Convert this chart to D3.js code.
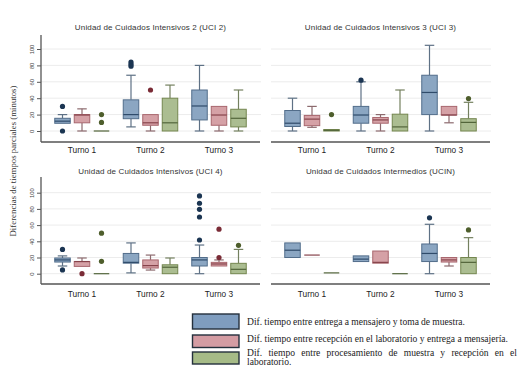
<!DOCTYPE html>
<html><head><meta charset="utf-8">
<script src="https://cdn.jsdelivr.net/npm/d3@7"></script>
<style>body{margin:0;background:#fff}svg{display:block}</style>
</head><body>
<svg id="c" width="522" height="382"></svg>
<script>
// ---- data ----
const panelTitles = ["Unidad de Cuidados Intensivos 2 (UCI 2)", "Unidad de Cuidados Intensivos 3 (UCI 3)",
  "Unidad de Cuidados Intensivos (UCI 4)", "Unidad de Cuidados Intermedios (UCIN)"];
const turnos = ["Turno 1", "Turno 2", "Turno 3"];
const seriesNames = ["Dif. tiempo entre entrega a mensajero y toma de muestra.",
  "Dif. tiempo entre recepción en el laboratorio y entrega a mensajería.",
  "Dif. tiempo entre procesamiento de muestra y recepción en el laboratorio."];
const yTicks = [0, 20, 40, 60, 80, 100];
const yLabel = "Diferencias de tiempos parciales (minutos)";

// box stats per turno per series: [lower whisker, q1, median, q3, upper whisker]
const uci2Boxes = [
  [[9.4, 9.4, 12, 15.5, 20], [0, 10, 19.5, 20, 27], [0, 0, 0, 0, 0]],
  [[5, 15, 20, 38, 68], [0, 7, 10, 20, 20], [0, 0, 10, 40, 56]],
  [[0, 13.5, 30.5, 50, 80], [0, 7, 19.5, 30, 30], [0, 5, 15.5, 26.5, 50]]
];
const uci2Outliers = [[[30, 0], [], [20, 10.5]], [[84, 81.5, 79], [50], []], [[], [], []]];

const uci3Boxes = [
  [[0, 5.5, 9.5, 25, 40], [4.5, 6.5, 14.5, 19, 30], [0, 0, 0.8, 1.8, 1.8]],
  [[0, 9.5, 19.5, 30, 60], [0, 9.5, 13.5, 16.5, 20], [0, 0, 5, 20.5, 50]],
  [[0, 20, 47, 68, 104.5], [10, 19.5, 19.5, 30, 30], [0, 0, 10.5, 15, 35]]
];
const uci3Outliers = [[[], [], [20]], [[62], [], []], [[], [], [39.5]]];

const uci4Boxes = [
  [[9.5, 14.4, 17, 19.4, 22], [9, 9, 15, 15, 19.4], [0, 0, 0, 0, 0]],
  [[1, 13, 14, 25, 38], [4.5, 7, 10, 17, 23], [0, 0, 8, 11, 19.4]],
  [[0, 9.5, 17, 20, 35.4], [9.5, 9.5, 12, 14, 17], [0, 0, 5.4, 12.8, 30]]
];
const uci4Outliers = [[[30, 4.6], [0], [50, 15.3]], [[], [], []], [[96, 87, 79.5, 70, 41.6], [55, 20], [35]]];

const ucinBoxes = [
  [[20, 20, 29, 38, 38], [23, 23, 23, 23, 23], [1, 1, 1, 1, 1]],
  [[15, 15, 18, 22, 22], [13, 13, 14, 28, 28], [0, 0, 0, 0, 0]],
  [[0, 15, 25, 36.7, 61], [9.5, 14.4, 17, 20, 20], [0, 0, 14, 20, 44.5]]
];
const ucinOutliers = [[[], [], []], [[], [], []], [[69], [], [54]]];

// ---- styles ----
const fills = ["#8ba6c2", "#d5a1a6", "#abbd91"];
const strokes = ["#526d8a", "#a8676e", "#74864f"];
const medians = ["#2f4b6a", "#86434b", "#52653a"];
const whiskers = ["#5e7185", "#8c6a6e", "#74805f"];
const dots = ["#1b3552", "#7a2b36", "#4e5e2c"];
const legendFills = ["#7f9dbf", "#d49ca3", "#a6bb87"];

const svg = d3.select("#c");
const sans = "'Liberation Sans', Arial, sans-serif";
const serif = "'Liberation Serif', 'DejaVu Serif', serif";

const layouts = [
  {x0: 41, x1: 260, yz: 131, yh: 49, top: 35, bot: 142, showY: true, titleY: 30, turnoY: 153},
  {x0: 271, x1: 490, yz: 131, yh: 49, top: 35, bot: 142, showY: false, titleY: 30, turnoY: 153},
  {x0: 41, x1: 260, yz: 273.7, yh: 192.7, top: 177, bot: 284, showY: true, titleY: 174, turnoY: 297},
  {x0: 271, x1: 490, yz: 273.7, yh: 192.7, top: 177, bot: 284, showY: false, titleY: 174, turnoY: 297}
];
const panelBoxes = [uci2Boxes, uci3Boxes, uci4Boxes, ucinBoxes];
const panelOutliers = [uci2Outliers, uci3Outliers, uci4Outliers, ucinOutliers];

const boxW = 15.5, capW = 9.5;

layouts.forEach((L, pi) => {
  const g = svg.append("g");
  const y = d3.scaleLinear().domain([0, 100]).range([L.yz, L.yh]);
  const x = d3.scalePoint().domain(turnos).range([L.x0 + 41, L.x1 - 41]);
  const xs = d3.scalePoint().domain([0, 1, 2]).range([-19.5, 19.5]);

  g.append("g").selectAll("line").data(yTicks).join("line")
    .attr("x1", L.x0).attr("x2", L.x1 + 1)
    .attr("y1", d => y(d)).attr("y2", d => y(d))
    .attr("stroke", "#ececec").attr("stroke-width", 1);

  if (L.showY) {
    const ax = g.append("g").attr("transform", `translate(${L.x0},0)`)
      .call(d3.axisLeft(y).tickValues(yTicks).tickSize(4).tickSizeOuter(0));
    ax.select(".domain").remove();
    ax.selectAll(".tick line").attr("stroke", "#555");
    ax.selectAll(".tick text")
      .attr("x", null).attr("dy", null)
      .attr("transform", "translate(-9,0) rotate(-90)")
      .attr("text-anchor", "middle").attr("dominant-baseline", "central")
      .attr("font-size", 5.8).attr("font-family", sans).attr("fill", "#444");
    g.append("line").attr("x1", L.x0).attr("x2", L.x0)
      .attr("y1", L.top).attr("y2", L.bot).attr("stroke", "#555").attr("stroke-width", 1.3);
  }
  g.append("line").attr("x1", L.x0).attr("x2", L.x1)
    .attr("y1", L.bot).attr("y2", L.bot).attr("stroke", "#555").attr("stroke-width", 1.3);

  g.append("g").selectAll("text").data(turnos).join("text")
    .attr("x", d => x(d)).attr("y", L.turnoY).attr("text-anchor", "middle")
    .attr("font-size", 8.3).attr("font-family", sans).attr("fill", "#222").text(d => d);

  g.append("text").attr("x", (L.x0 + L.x1) / 2).attr("y", L.titleY)
    .attr("text-anchor", "middle").attr("font-size", 8).attr("font-family", sans)
    .attr("fill", "#333").attr("letter-spacing", 0.15).text(panelTitles[pi]);

  const boxes = panelBoxes[pi];
  const outs = panelOutliers[pi];
  turnos.forEach((t, ti) => {
    [0, 1, 2].forEach(si => {
      const [lo, q1, med, q3, hi] = boxes[ti][si];
      const cx = x(t) + xs(si);
      const bg = g.append("g");
      if (hi > q3) {
        bg.append("line").attr("x1", cx).attr("x2", cx).attr("y1", y(q3)).attr("y2", y(hi))
          .attr("stroke", whiskers[si]).attr("stroke-width", 1.2);
        bg.append("line").attr("x1", cx - capW / 2).attr("x2", cx + capW / 2).attr("y1", y(hi)).attr("y2", y(hi))
          .attr("stroke", whiskers[si]).attr("stroke-width", 1.2);
      }
      if (lo < q1) {
        bg.append("line").attr("x1", cx).attr("x2", cx).attr("y1", y(q1)).attr("y2", y(lo))
          .attr("stroke", whiskers[si]).attr("stroke-width", 1.2);
        bg.append("line").attr("x1", cx - capW / 2).attr("x2", cx + capW / 2).attr("y1", y(lo)).attr("y2", y(lo))
          .attr("stroke", whiskers[si]).attr("stroke-width", 1.2);
      }
      bg.append("rect").attr("x", cx - boxW / 2).attr("width", boxW)
        .attr("y", y(q3)).attr("height", Math.max(0, y(q1) - y(q3)))
        .attr("fill", fills[si]).attr("stroke", strokes[si]).attr("stroke-width", 1);
      bg.append("line").attr("x1", cx - boxW / 2).attr("x2", cx + boxW / 2).attr("y1", y(med)).attr("y2", y(med))
        .attr("stroke", medians[si]).attr("stroke-width", 1.2);
      bg.selectAll("circle").data(outs[ti][si]).join("circle")
        .attr("cx", cx).attr("cy", d => y(d)).attr("r", 2.6).attr("fill", dots[si]);
    });
  });
});

svg.append("text").attr("transform", "translate(16,161) rotate(-90)")
  .attr("text-anchor", "middle").attr("font-size", 8.8).attr("font-family", serif)
  .attr("fill", "#333").text(yLabel);

// legend
const legRects = [{y: 314, h: 15}, {y: 335, h: 12.5}, {y: 352, h: 12}];
const lg = svg.append("g");
lg.selectAll("rect").data(seriesNames).join("rect")
  .attr("x", 192.5).attr("width", 46.5)
  .attr("y", (d, i) => legRects[i].y).attr("height", (d, i) => legRects[i].h)
  .attr("fill", (d, i) => legendFills[i]).attr("stroke", "#24303c").attr("stroke-width", 1.4);

// choose font size so line 2 spans its reference width, then justify via word-spacing
const probe = lg.append("text").attr("font-family", serif).attr("font-size", 10).text(seriesNames[1]);
const fs = Math.min(9.8, 10 * 261 / probe.node().getComputedTextLength());
probe.remove();
const legLines = [
  {t: seriesNames[0], y: 324.5, w: 218},
  {t: seriesNames[1], y: 342, w: 261},
  {t: "Dif. tiempo entre procesamiento de muestra y recepción en el", y: 355.5, w: 270},
  {t: "laboratorio.", y: 365, w: null}
];
legLines.forEach(l => {
  const tx = lg.append("text").attr("x", 247).attr("y", l.y).attr("font-size", fs)
    .attr("font-family", serif).attr("fill", "#222").text(l.t);
  if (l.w) {
    const len = tx.node().getComputedTextLength();
    const spaces = (l.t.match(/ /g) || []).length;
    tx.attr("word-spacing", (l.w - len) / spaces);
  }
});
</script>
</body></html>
